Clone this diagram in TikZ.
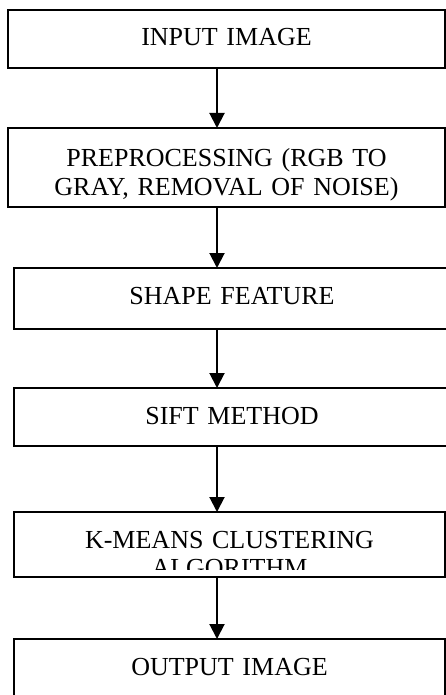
\documentclass[tikz,border=0pt]{standalone}
\usepackage{fontspec}
\setmainfont{Liberation Serif}
\usetikzlibrary{arrows.meta}

\begin{document}
\begin{tikzpicture}[
  x=1pt, y=-1pt,
  stepbox/.style={draw, line width=1.9pt, rectangle, anchor=north west,
    inner xsep=6pt, inner ysep=0pt, outer sep=0pt, align=center, text height=36pt,
    font=\fontsize{26}{28.5}\selectfont},
  flow/.style={-{Triangle[length=15pt, width=15pt]}, line width=2pt}
]
  \useasboundingbox (0,0) rectangle (446,695);
  \clip (0,0) rectangle (446,695);

  % Stages
  \node[stepbox, text width=425pt, text depth=22pt] (input) at (8,10) {INPUT IMAGE};
  \node[stepbox, text width=425pt, text height=38.5pt, text depth=40.5pt] (prep) at (8,128)
    {PREPROCESSING (RGB TO\\GRAY, REMOVAL OF NOISE)};
  \node[stepbox, text width=424pt, text depth=25pt] (shape) at (14,268) {SHAPE FEATURE};
  \node[stepbox, text width=424pt, text depth=22pt] (sift) at (14,388) {SIFT METHOD};
  \begin{scope}
    \clip (0,512) rectangle (446,569);
    \node[stepbox, text width=419pt, text depth=29pt] (kmeans) at (14,512)
      {K-MEANS CLUSTERING\\ALGORITHM};
  \end{scope}
  \draw[line width=1.9pt] (kmeans.north west) rectangle (kmeans.south east);
  \node[stepbox, text width=419pt, text depth=34pt] (output) at (14,639) {OUTPUT IMAGE};

  % Arrows between stages
  \coordinate (axis) at (217,0);
  \draw[flow] (input.south -| axis) -- (prep.north -| axis);
  \draw[flow] (prep.south -| axis) -- (shape.north -| axis);
  \draw[flow] (shape.south -| axis) -- (sift.north -| axis);
  \draw[flow] (sift.south -| axis) -- (kmeans.north -| axis);
  \draw[flow] (kmeans.south -| axis) -- (output.north -| axis);

\end{tikzpicture}
\end{document}
